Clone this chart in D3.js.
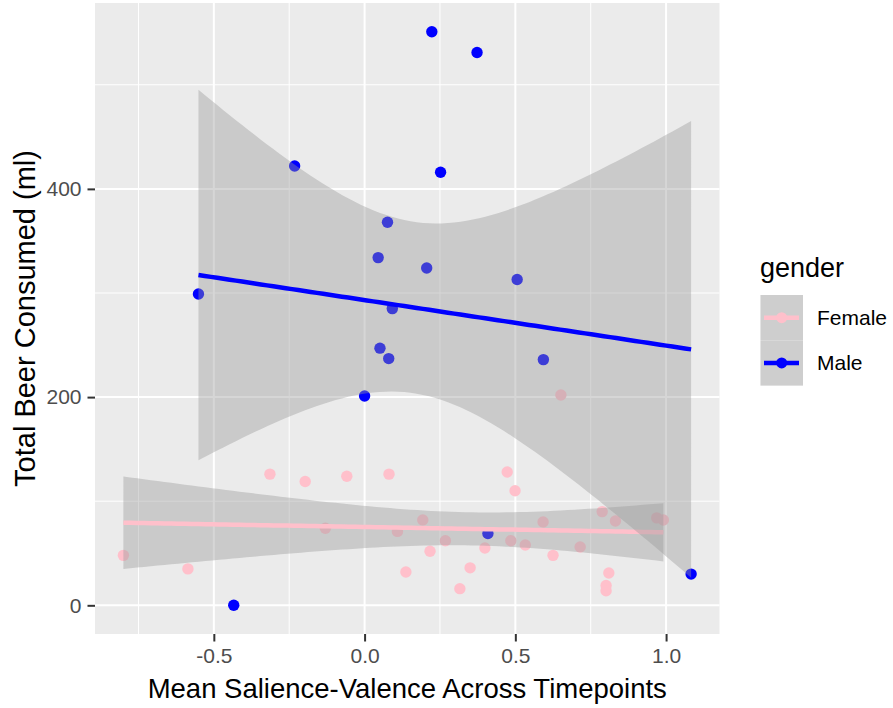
<!DOCTYPE html>
<html>
<head>
<meta charset="utf-8">
<script src="https://cdn.jsdelivr.net/npm/d3@7"></script>
<style>
  body { margin: 0; background: #fff; }
  text { font-family: "Liberation Sans", Arial, sans-serif; }
</style>
</head>
<body>
<script>
// values
const maleX = [-0.551, -0.232, 0.223, 0.373, 0.252, 0.076, 0.045, 0.206, 0.092, 0.051, 0.080, 0.000, -0.434, 0.506, 0.593, 0.409, 1.083]
const maleY = [299, 422, 551, 531, 416, 368, 334, 324, 285, 247, 237, 201, 0, 313, 236, 69, 30]

const femaleX = [-0.800, -0.586, -0.314, -0.197, -0.059, 0.081, -0.130, 0.109, 0.137, 0.193,
                 0.217, 0.268, 0.350, 0.316, 0.399, 0.473, 0.499, 0.485, 0.533, 0.592,
                 0.625, 0.651, 0.715, 0.788, 0.832, 0.810, 0.801, 0.801, 0.969, 0.991]
const femaleY = [48, 35, 126, 119, 124, 126, 74, 71, 32, 82,
                 52, 62, 36, 16, 55, 128, 110, 62, 58, 80,
                 48, 202, 56, 90, 81, 31, 19, 14, 84, 82]

const xTicks = [-0.5, 0, 0.5, 1.0]
const xMinor = [-0.75, -0.25, 0.25, 0.75]
const yTicks = [0, 200, 400]
const yMinor = [100, 300, 500]

const groups = ['Female', 'Male']
const groupColor = {Female: 'pink', Male: 'blue'}
// t quantiles (0.975) for n-2 degrees of freedom
const tCrit = {Female: 2.0484, Male: 2.1314}

var config = {
  width: 893,
  height: 708,
  left: 95,
  right: 719.5,
  top: 3,
  bottom: 634,
}

const pts = []
femaleX.forEach((x, i) => pts.push({g: 'Female', x: x, y: femaleY[i]}))
maleX.forEach((x, i) => pts.push({g: 'Male', x: x, y: maleY[i]}))

// ggplot style 5% expansion
const expand = (ext) => {
  let w = ext[1] - ext[0]
  return [ext[0] - 0.05 * w, ext[1] + 0.05 * w]
}

var x = d3.scaleLinear()
  .domain(expand(d3.extent(pts, d => d.x)))
  .range([config.left, config.right])
var y = d3.scaleLinear()
  .domain(expand(d3.extent(pts, d => d.y)))
  .range([config.bottom, config.top])

// linear model + 95% confidence band, like geom_smooth(method = 'lm')
const fitLm = (xs, ys, t) => {
  let n = xs.length
  let mx = d3.mean(xs), my = d3.mean(ys)
  let sxx = d3.sum(xs, v => (v - mx) * (v - mx))
  let sxy = d3.sum(xs.map((v, i) => (v - mx) * (ys[i] - my)))
  let b = sxy / sxx, a = my - b * mx
  let sse = d3.sum(xs.map((v, i) => Math.pow(ys[i] - (a + b * v), 2)))
  let s = Math.sqrt(sse / (n - 2))
  let ext = d3.extent(xs)
  return d3.range(80).map(i => {
    let xv = ext[0] + i * (ext[1] - ext[0]) / 79
    let fit = a + b * xv
    let se = s * Math.sqrt(1 / n + (xv - mx) * (xv - mx) / sxx)
    return {x: xv, y: fit, lo: fit - t * se, hi: fit + t * se}
  })
}

const fits = {
  Female: fitLm(femaleX, femaleY, tCrit.Female),
  Male: fitLm(maleX, maleY, tCrit.Male),
}

var svg = d3.select('body').append('svg')
  .attr('width', config.width)
  .attr('height', config.height)

// panel
svg.append('rect')
  .attr('x', config.left).attr('y', config.top)
  .attr('width', config.right - config.left)
  .attr('height', config.bottom - config.top)
  .attr('fill', '#EBEBEB')

var grid = svg.append('g')
grid.selectAll('.xminor').data(xMinor).enter().append('line')
  .attr('x1', d => x(d)).attr('x2', d => x(d))
  .attr('y1', config.top).attr('y2', config.bottom)
  .attr('stroke', '#fff').attr('stroke-width', 1)
grid.selectAll('.yminor').data(yMinor).enter().append('line')
  .attr('y1', d => y(d)).attr('y2', d => y(d))
  .attr('x1', config.left).attr('x2', config.right)
  .attr('stroke', '#fff').attr('stroke-width', 1)
grid.selectAll('.xmajor').data(xTicks).enter().append('line')
  .attr('x1', d => x(d)).attr('x2', d => x(d))
  .attr('y1', config.top).attr('y2', config.bottom)
  .attr('stroke', '#fff').attr('stroke-width', 2)
grid.selectAll('.ymajor').data(yTicks).enter().append('line')
  .attr('y1', d => y(d)).attr('y2', d => y(d))
  .attr('x1', config.left).attr('x2', config.right)
  .attr('stroke', '#fff').attr('stroke-width', 2)

// points first, smooth layer on top
svg.append('g').selectAll('circle').data(pts).enter().append('circle')
  .attr('cx', d => x(d.x))
  .attr('cy', d => y(d.y))
  .attr('r', 5.7)
  .attr('fill', d => groupColor[d.g])

var band = d3.area().x(d => x(d.x)).y0(d => y(d.lo)).y1(d => y(d.hi))
var line = d3.line().x(d => x(d.x)).y(d => y(d.y))

groups.forEach(g => {
  svg.append('path')
    .attr('d', band(fits[g]))
    .attr('fill', '#999999').attr('fill-opacity', 0.4)
  svg.append('path')
    .attr('d', line(fits[g]))
    .attr('fill', 'none')
    .attr('stroke', groupColor[g])
    .attr('stroke-width', 4.5)
})

// axes, ggplot uses a plain hyphen for negatives
var xAxis = svg.append('g')
  .attr('transform', 'translate(0,' + config.bottom + ')')
  .call(d3.axisBottom(x).tickValues(xTicks).tickFormat(d => d.toFixed(1)).tickSize(7.5).tickPadding(7))
var yAxis = svg.append('g')
  .attr('transform', 'translate(' + config.left + ',0)')
  .call(d3.axisLeft(y).tickValues(yTicks).tickFormat(d => String(d)).tickSize(7.5).tickPadding(6))

;[xAxis, yAxis].forEach(ax => {
  ax.select('.domain').remove()
  ax.selectAll('.tick line').attr('stroke', '#333').attr('stroke-width', 2)
  ax.selectAll('.tick text')
    .attr('fill', '#4D4D4D')
    .style('font-size', '21px')
    .style('font-family', '"Liberation Sans", Arial, sans-serif')
})

svg.append('text')
  .attr('x', (config.left + config.right) / 2)
  .attr('y', 698)
  .attr('text-anchor', 'middle')
  .style('font-size', '27.5px')
  .text('Mean Salience-Valence Across Timepoints')

svg.append('text')
  .attr('transform', 'translate(34.5,' + (config.top + config.bottom) / 2 + ') rotate(-90)')
  .attr('text-anchor', 'middle')
  .style('font-size', '29px')
  .text('Total Beer Consumed (ml)')

// legend
var legend = svg.append('g').attr('transform', 'translate(760,0)')
legend.append('text')
  .attr('x', 0).attr('y', 277)
  .style('font-size', '27px')
  .text('gender')

var keyH = 45.3
groups.forEach((g, i) => {
  let top = 295 + i * keyH
  let cy = top + keyH / 2
  legend.append('rect')
    .attr('x', 0.5).attr('y', top)
    .attr('width', 42.5).attr('height', keyH)
    .attr('fill', '#F2F2F2')
  legend.append('rect')
    .attr('x', 0.5).attr('y', top)
    .attr('width', 42.5).attr('height', keyH)
    .attr('fill', '#999999').attr('fill-opacity', 0.4)
  legend.append('line')
    .attr('x1', 4).attr('x2', 39)
    .attr('y1', cy).attr('y2', cy)
    .attr('stroke', groupColor[g]).attr('stroke-width', 4.5)
  legend.append('circle')
    .attr('cx', 21.7).attr('cy', cy).attr('r', 5.5)
    .attr('fill', groupColor[g])
  legend.append('text')
    .attr('x', 57).attr('y', cy + 7.5)
    .style('font-size', '21px')
    .text(g)
})
</script>
</body>
</html>
